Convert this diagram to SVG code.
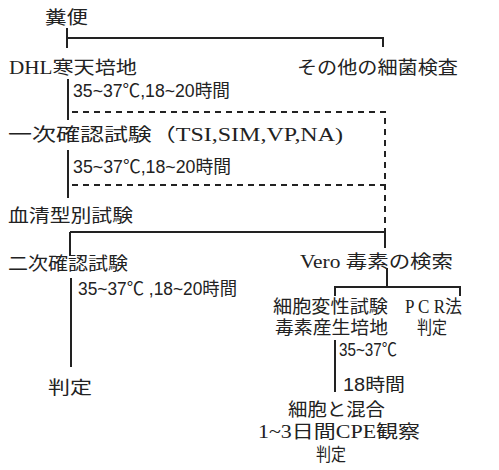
<svg xmlns="http://www.w3.org/2000/svg" width="499" height="470" viewBox="0 0 499 470">
<style>
.t{font-family:"Liberation Serif","Noto Sans CJK JP",serif;font-size:18px;fill:#222}
.n{font-family:"Liberation Sans","Noto Sans CJK JP",sans-serif;font-size:18px;fill:#222}
.s{stroke:#222;stroke-width:2;fill:none}
.d{stroke:#222;stroke-width:2;fill:none;stroke-dasharray:6 5}
</style>
<rect width="499" height="470" fill="#fff"/>
<g id="connectors">
<path class="s" d="M67 28V48M67 38H383V47"/>
<path class="s" d="M68 79V120"/>
<path class="d" d="M72 112H385V232M72 185H385"/>
<path class="s" d="M68 150V198"/>
<path class="s" d="M70 232H385V248M70 232V256"/>
<path class="s" d="M71 278V367"/>
<path class="s" d="M387 268V287M335 296V287H460V296"/>
<path class="s" d="M335 340V392"/>
</g>
<g id="n1"><text class="t" x="45" y="24" font-size="20" textLength="43" lengthAdjust="spacingAndGlyphs">糞便</text></g>
<g id="n2"><text class="t" x="9" y="74" textLength="128" lengthAdjust="spacingAndGlyphs">DHL寒天培地</text></g>
<g id="n3"><text class="t" x="297" y="74" textLength="161" lengthAdjust="spacingAndGlyphs">その他の細菌検査</text></g>
<g id="n4"><text class="n" x="73" y="97" textLength="157" lengthAdjust="spacingAndGlyphs">35~37℃,18~20時間</text></g>
<g id="n5"><text class="t" x="8" y="141" textLength="335" lengthAdjust="spacingAndGlyphs">一次確認試験（TSI,SIM,VP,NA)</text></g>
<g id="n6"><text class="n" x="73" y="173" textLength="158" lengthAdjust="spacingAndGlyphs">35~37℃,18~20時間</text></g>
<g id="n7"><text class="t" x="8" y="222" textLength="125" lengthAdjust="spacingAndGlyphs">血清型別試験</text></g>
<g id="n8"><text class="t" x="8" y="270" textLength="120" lengthAdjust="spacingAndGlyphs">二次確認試験</text></g>
<g id="n9"><text class="n" x="78" y="295" textLength="159" lengthAdjust="spacingAndGlyphs">35~37℃ ,18~20時間</text></g>
<g id="n10"><text class="t" x="48" y="394" textLength="44" lengthAdjust="spacingAndGlyphs">判定</text></g>
<g id="n11"><text class="t" x="300" y="268" textLength="153" lengthAdjust="spacingAndGlyphs">Vero 毒素の検索</text></g>
<g id="n12"><text class="t" x="273" y="313" textLength="115" lengthAdjust="spacingAndGlyphs">細胞変性試験</text>
<text class="t" x="275" y="334" textLength="113" lengthAdjust="spacingAndGlyphs">毒素産生培地</text></g>
<g id="n13"><text class="t" x="405" y="313" textLength="57" lengthAdjust="spacingAndGlyphs">P C R法</text>
<text class="t" x="417" y="334" textLength="30" lengthAdjust="spacingAndGlyphs">判定</text></g>
<g id="n14"><text class="n" x="339" y="356" textLength="58" lengthAdjust="spacingAndGlyphs">35~37℃</text>
<text class="n" x="343" y="391" textLength="62" lengthAdjust="spacingAndGlyphs">18時間</text></g>
<g id="n15"><text class="t" x="288" y="416" textLength="97" lengthAdjust="spacingAndGlyphs">細胞と混合</text>
<text class="t" x="258" y="438" textLength="162" lengthAdjust="spacingAndGlyphs">1~3日間CPE観察</text>
<text class="t" x="316" y="461" textLength="30" lengthAdjust="spacingAndGlyphs">判定</text></g>
</svg>
